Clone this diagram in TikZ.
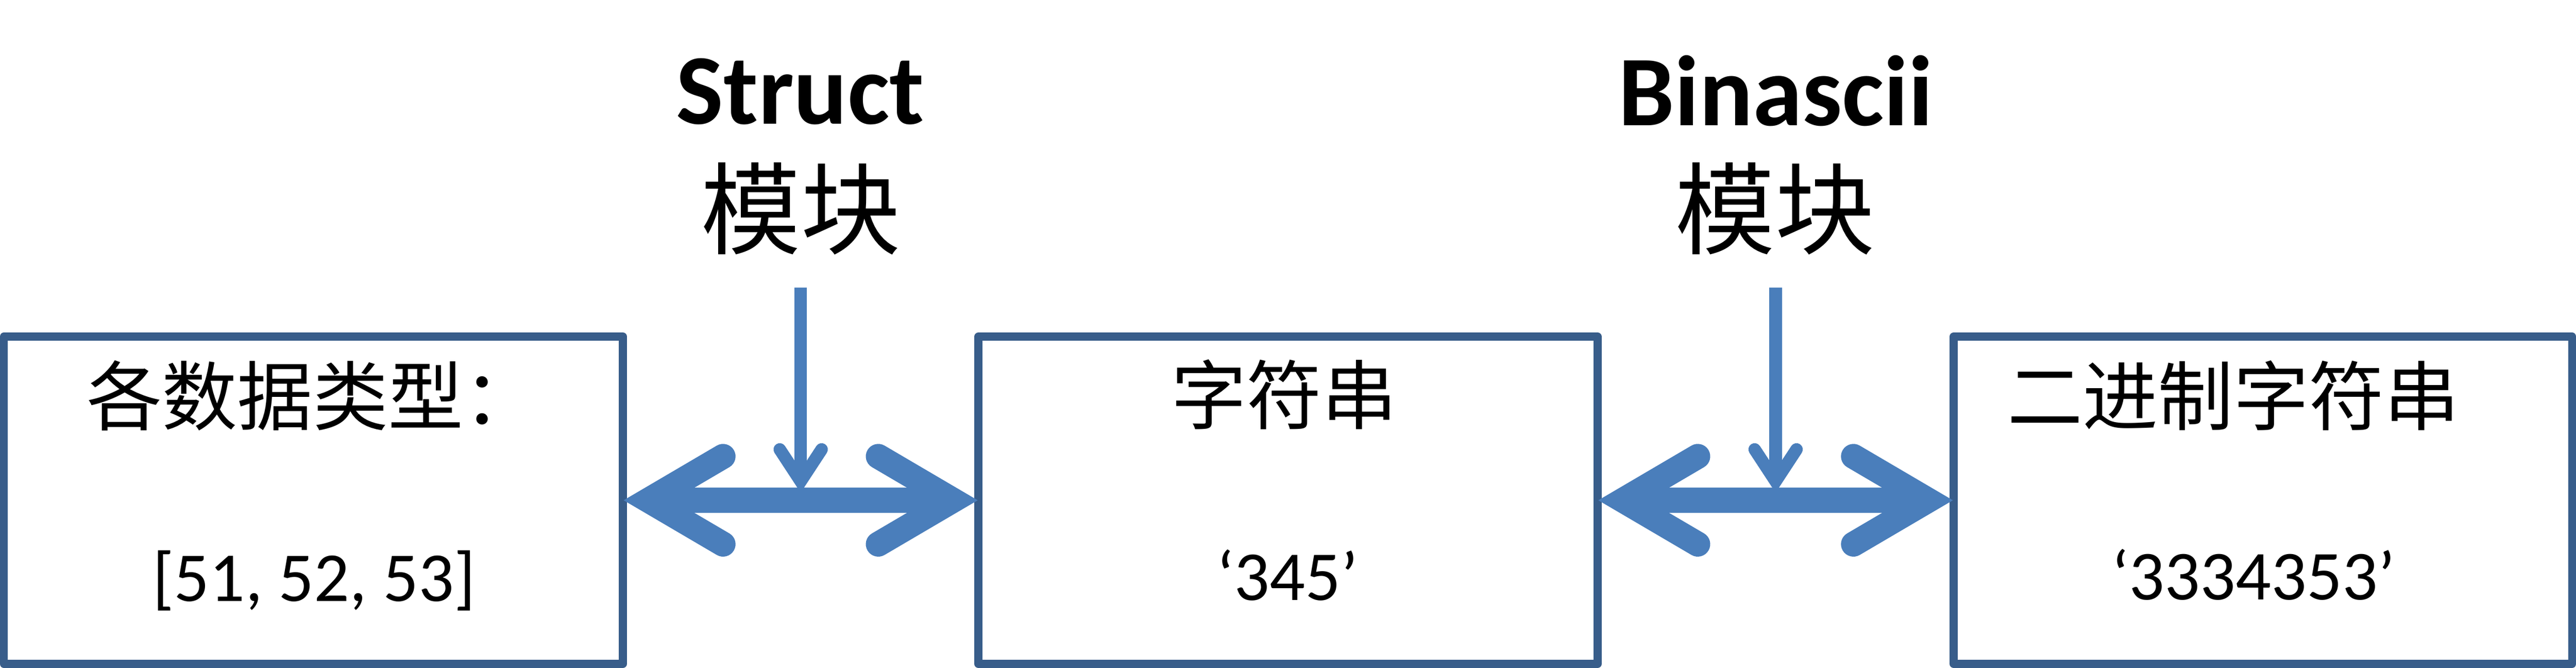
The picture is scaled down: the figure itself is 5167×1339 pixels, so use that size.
\documentclass[tikz,border=0pt]{standalone}
\usepackage{fontspec}
\setmainfont{Carlito}
\newfontfamily\cjk{Noto Sans CJK SC}
\usetikzlibrary{calc}
\definecolor{boxline}{HTML}{385D8A}
\definecolor{arrowfill}{HTML}{4A7EBB}
\begin{document}
\begin{tikzpicture}[x=0.01cm,y=-0.01cm,
  databox/.style={draw=boxline,line width=0.16cm,line join=round,minimum height=6.56cm,inner sep=0pt,outer sep=0pt},
  cjktext/.style={inner sep=0pt,font=\cjk\fontsize{43}{50}\selectfont},
  lattext/.style={inner sep=0pt,font=\fontsize{40}{48}\selectfont},
  modlat/.style={inner sep=0pt,font=\bfseries\fontsize{57}{66}\selectfont},
  modcjk/.style={inner sep=0pt,font=\cjk\fontsize{57}{66}\selectfont},
  bigshaft/.style={draw=arrowfill,line width=0.5cm},
  bigbarb/.style={draw=arrowfill,line width=0.5cm,line cap=round,line join=miter},
  smallshaft/.style={draw=arrowfill,line width=0.25cm},
  smallbarb/.style={draw=arrowfill,line width=0.25cm,line cap=round,line join=miter},
]
\useasboundingbox (0,0) rectangle (5167,1339);
% boxes
\node[databox,minimum width=12.41cm] (L) at (628.5,1003) {};
\node[databox,minimum width=12.41cm] (M) at (2583.5,1003) {};
\node[databox,minimum width=12.40cm] (R) at (4539,1003) {};
% box texts
\node[cjktext,anchor=west] (Lt) at (173,793) {各数据类型：};
\node[lattext] (Lv) at (630,1164) {[51, 52, 53]};
\node[cjktext] (Mt) at (2576,791) {字符串};
\node[lattext] (Mv) at (2582,1153) {‘345’};
\node[cjktext] (Rt) at (4480,793) {二进制字符串};
\node[lattext] (Rv) at (4520,1152) {‘3334353’};
% module labels
\node[modlat] (S1) at (1605,184) {Struct};
\node[modcjk] (S2) at (1606,419) {模块};
\node[modlat] (B1) at (3562,182) {Binascii};
\node[modcjk] (B2) at (3561,418) {模块};
% double arrow 1
\coordinate (a1) at ($(L.east)!0.5!(M.west)$);
\draw[bigshaft] ($(L.east)+(51,0)$) -- ($(M.west)+(-51,0)$);
\draw[bigbarb] ($(L.east)+(201,-88)$) -- ($(L.east)+(51,0)$) -- ($(L.east)+(201,88)$);
\draw[bigbarb] ($(M.west)+(-201,-88)$) -- ($(M.west)+(-51,0)$) -- ($(M.west)+(-201,88)$);
% double arrow 2
\coordinate (a2) at ($(M.east)!0.5!(R.west)$);
\draw[bigshaft] ($(M.east)+(51,0)$) -- ($(R.west)+(-51,0)$);
\draw[bigbarb] ($(M.east)+(201,-88)$) -- ($(M.east)+(51,0)$) -- ($(M.east)+(201,88)$);
\draw[bigbarb] ($(R.west)+(-201,-88)$) -- ($(R.west)+(-51,0)$) -- ($(R.west)+(-201,88)$);
% vertical arrows
\foreach \c in {a1,a2}{
  \draw[smallshaft] ($(\c)+(0,-426)$) -- ($(\c)+(0,-38)$);
  \draw[smallbarb] ($(\c)+(-42,-102)$) -- ($(\c)+(0,-38)$) -- ($(\c)+(42,-102)$);
}
\end{tikzpicture}
\end{document}
